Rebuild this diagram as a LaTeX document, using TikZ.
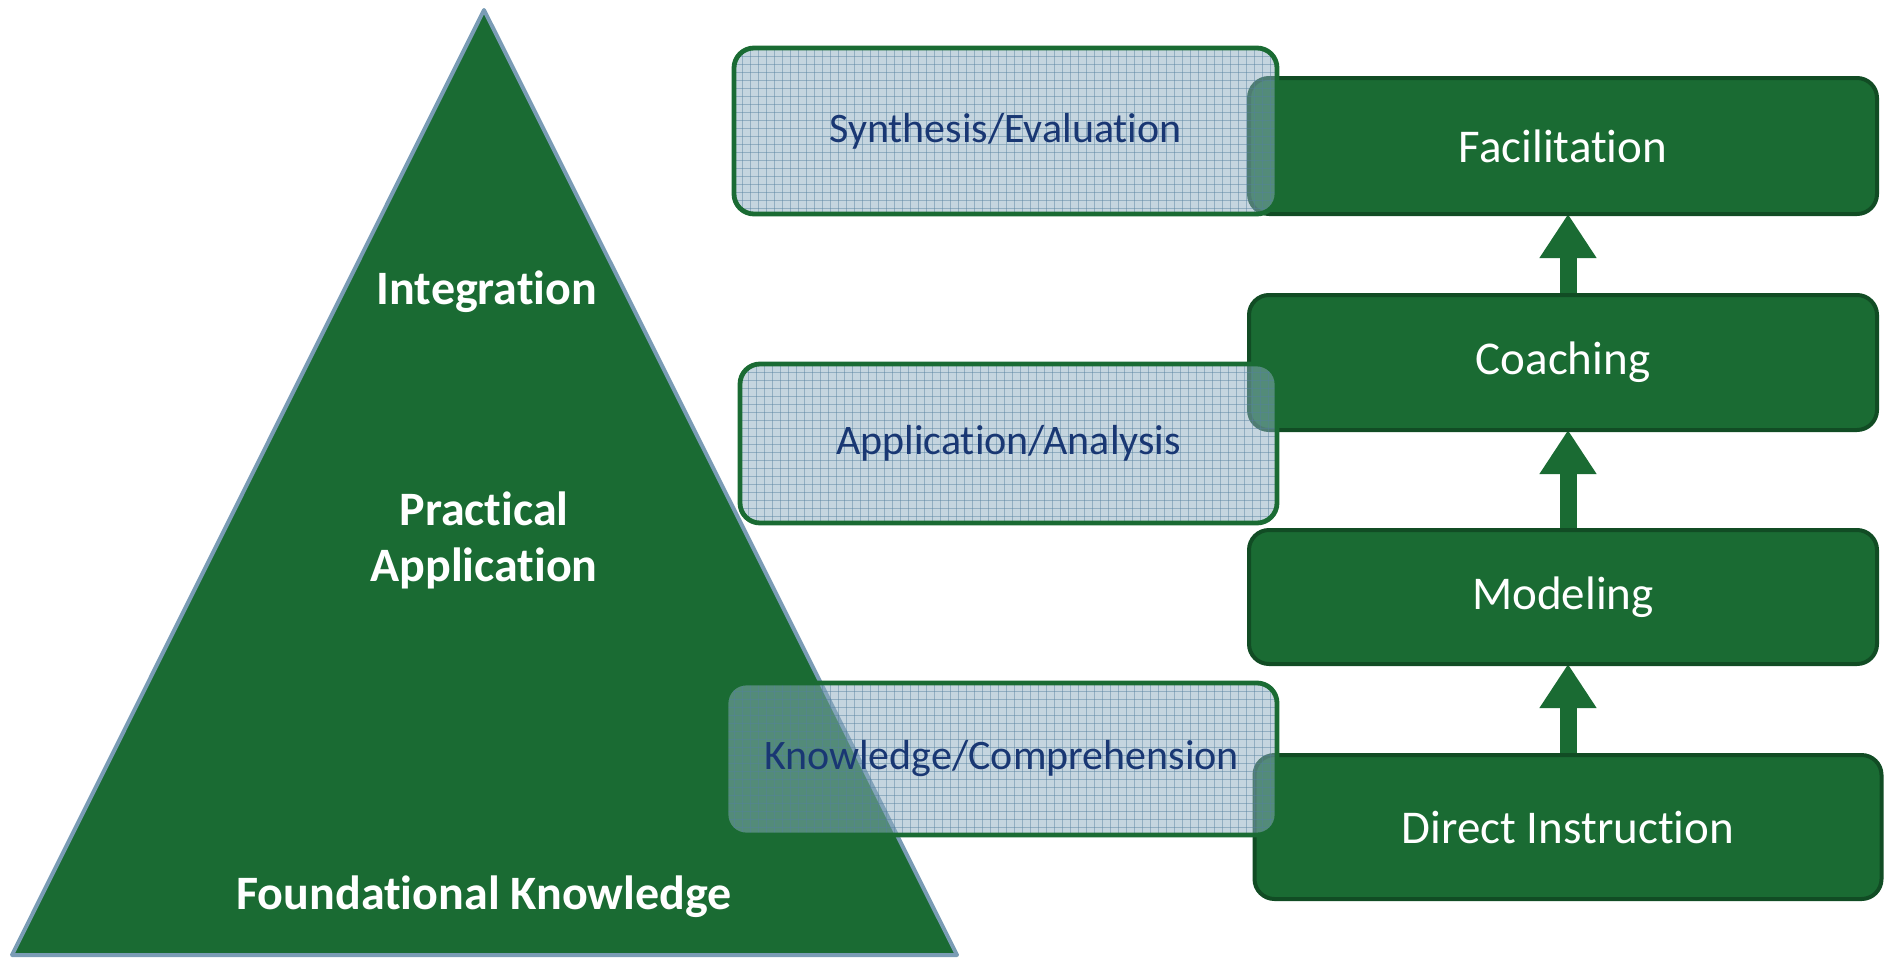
\documentclass[tikz,border=0pt]{standalone}
\usepackage{fontspec}
\setmainfont{Carlito}[Ligatures=NoCommon]
\usetikzlibrary{arrows.meta}
\definecolor{tgreen}{RGB}{26,107,51}
\definecolor{bgreen}{RGB}{17,76,36}
\definecolor{edgeblue}{RGB}{122,156,181}
\definecolor{bluefill}{RGB}{140,172,192}
\definecolor{gridc}{RGB}{85,128,158}
\definecolor{navy}{RGB}{25,55,115}
\tikzset{
  greenbox/.style={draw=bgreen, line width=2pt, fill=tgreen, rounded corners=10pt,
    text=white, font=\fontsize{23.5}{28}\selectfont, inner sep=0pt},
  bluebox/.style={draw=tgreen, line width=2.4pt, fill=bluefill, fill opacity=0.5,
    draw opacity=1, text opacity=1, rounded corners=10pt, text=navy,
    font=\fontsize{21}{25}\selectfont, inner sep=0pt,
    path picture={
      \foreach \k in {0,...,72}{
        \draw[gridc, line width=0.4pt, draw opacity=0.45]
          ([xshift=\k*4pt]path picture bounding box.north west) --
          ([xshift=\k*4pt]path picture bounding box.south west);
      }
      \foreach \k in {0,...,22}{
        \draw[gridc, line width=0.4pt, draw opacity=0.45]
          ([yshift=-\k*4pt]path picture bounding box.north west) --
          ([yshift=-\k*4pt]path picture bounding box.north east);
      }
    }},
  tritext/.style={text=white, font=\fontsize{24}{29}\selectfont\bfseries, align=center},
  uparrow/.style={draw=tgreen, line width=8.5pt, -{Triangle[width=27pt, length=22pt]}}
}
\begin{document}
\begin{tikzpicture}[x=0.5pt, y=-0.5pt]
\useasboundingbox (0,0) rectangle (1889,959);
% pyramid
\draw[fill=tgreen, draw=edgeblue, line width=2pt, line join=round]
  (12,955) -- (484,10) -- (957,955) -- cycle;
\node[tritext] (integ) at (487,292) {Integration};
\node[tritext] (pract) at (484,540) {Practical\\[-1pt]Application};
\node[tritext] (found) at (484,897) {Foundational Knowledge};
% arrows
\coordinate (a1s) at (1568,295);
\coordinate (a1e) at (1568,214);
\coordinate (a2s) at (1568,530);
\coordinate (a2e) at (1568,430);
\coordinate (a3s) at (1568,755);
\coordinate (a3e) at (1568,664);
\draw[uparrow] (a1s) -- (a1e);
\draw[uparrow] (a2s) -- (a2e);
\draw[uparrow] (a3s) -- (a3e);
% green boxes
\node[greenbox, minimum width=314pt, minimum height=68pt] (fac) at (1563,146) {Facilitation};
\node[greenbox, minimum width=314pt, minimum height=67.5pt] (coa) at (1563,362.5) {Coaching};
\node[greenbox, minimum width=314pt, minimum height=67pt] (mod) at (1563,597) {Modeling};
\node[greenbox, minimum width=313.5pt, minimum height=72pt] (dir) at (1568,827) {Direct Instruction};
% blue boxes
\node[bluebox, minimum width=271.5pt, minimum height=83pt] (syn) at (1005.5,131) {Synthesis/Evaluation};
\node[bluebox, minimum width=268.5pt, minimum height=79.5pt] (app) at (1008.5,443.5) {Application/Analysis};
\node[bluebox, minimum width=275.5pt, minimum height=76pt] (kno) at (1001.5,759) {Knowledge/Comprehension};
\end{tikzpicture}
\end{document}
